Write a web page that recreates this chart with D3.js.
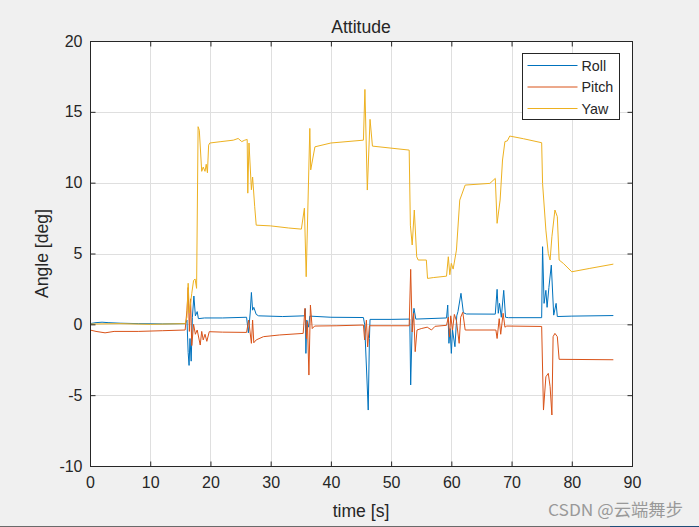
<!DOCTYPE html>
<html>
<head>
<meta charset="utf-8">
<script src="https://cdn.jsdelivr.net/npm/d3@7"></script>
<style>
  html, body { margin: 0; padding: 0; background: #f0f0f0; }
  svg text { font-family: "Liberation Sans", Arial, Helvetica, sans-serif; fill: #262626; }
</style>
</head>
<body>
<div id="chart"></div>
<script>
(function() {
  // series, [time s, angle deg]
  var roll = [[0,0.05],[1,0.12],[2,0.15],[3,0.12],[5,0.08],[8,0.05],[12,0.03],[15.8,0.05],[16.1,0.3],[16.3,-2.0],[16.45,-2.9],[16.6,-1.0],[16.8,-2.6],[17.0,0.5],[17.25,2.0],[17.5,0.6],[17.8,0.9],[18.0,0.4],[19,0.45],[22,0.45],[26.0,0.5],[26.3,-0.6],[26.6,0.8],[26.8,2.25],[27.0,1.0],[27.2,1.2],[27.6,0.7],[28,0.6],[32,0.55],[35.6,0.6],[35.75,1.1],[35.85,-2.05],[36.0,0.3],[36.3,-0.2],[36.5,0.58],[40,0.5],[45.4,0.48],[45.6,0.0],[46.0,-4.0],[46.2,-6.05],[46.4,-1.0],[46.5,0.35],[50,0.35],[53.1,0.37],[53.25,-4.28],[53.5,0.0],[53.8,1.13],[54.1,0.37],[59.2,0.45],[59.4,1.36],[59.6,-1.34],[59.8,-0.3],[60.0,-2.05],[60.2,-0.4],[60.6,-1.58],[60.9,0.6],[61.1,0.9],[61.6,2.19],[62.0,0.82],[62.5,0.73],[67.3,0.72],[67.6,2.47],[67.8,0.78],[68.0,1.48],[68.3,0.5],[68.7,2.4],[69.0,0.5],[69.5,0.47],[75.0,0.47],[75.15,5.48],[75.4,1.48],[75.7,2.4],[75.9,1.2],[76.2,2.6],[76.6,4.18],[77.0,0.65],[77.4,1.48],[77.6,0.55],[80,0.58],[86.9,0.62]];
  var pitch = [[0,-0.4],[1,-0.5],[2.5,-0.6],[4,-0.5],[8,-0.5],[12,-0.45],[15.8,-0.4],[16.1,1.0],[16.3,2.6],[16.5,-0.5],[16.7,1.8],[16.9,-1.5],[17.2,0.0],[17.5,-0.7],[17.8,-0.4],[18.3,-1.46],[18.55,-0.5],[18.8,-1.1],[19.1,-0.7],[19.4,-1.2],[19.8,-0.52],[22,-0.55],[26.0,-0.57],[26.35,0.3],[26.8,-1.34],[27.0,0.3],[27.2,-1.3],[27.6,-1.1],[28.8,-0.87],[31.5,-0.75],[35.4,-0.64],[35.7,1.13],[35.95,-1.0],[36.1,0.2],[36.35,-3.58],[36.6,1.36],[36.9,-0.3],[37.3,-0.12],[41,-0.1],[45.4,-0.05],[45.6,-1.1],[45.9,0.3],[46.1,-1.6],[46.4,-0.1],[50,-0.1],[53.0,-0.1],[53.25,3.88],[53.5,-0.54],[53.75,0.78],[54.0,-1.93],[54.3,-0.4],[55.0,-0.3],[56.0,-0.2],[56.7,-0.4],[57.3,-0.14],[59.2,-0.07],[59.5,0.5],[59.7,-0.9],[59.9,0.6],[60.2,-0.4],[60.5,0.7],[60.85,0.25],[61.3,-1.34],[61.55,0.5],[61.9,0.85],[62.3,-0.4],[67.4,-0.4],[67.6,-1.0],[67.95,0.4],[68.2,-0.7],[68.6,0.78],[68.9,-0.2],[69.2,-0.12],[75.0,-0.15],[75.3,-6.05],[75.7,-3.7],[76.1,-3.46],[76.4,-4.4],[76.7,-6.4],[76.9,-0.87],[77.2,-0.64],[77.6,-0.87],[77.9,-2.47],[86.9,-2.5]];
  var yaw = [[0,0.02],[5,0.05],[10,0.0],[15.8,0.05],[16.1,0.5],[16.3,2.9],[16.5,0.8],[16.9,2.19],[17.2,3.1],[17.45,3.2],[17.7,2.54],[17.95,13.95],[18.15,13.7],[18.55,10.8],[18.8,11.1],[19.1,10.8],[19.3,11.3],[19.5,10.7],[19.7,12.65],[19.9,12.8],[21.6,12.89],[23.8,13.0],[24.6,13.12],[25.2,12.9],[25.7,13.0],[26.1,13.05],[26.2,9.26],[26.4,12.8],[26.8,9.5],[27.0,10.4],[27.35,8.3],[27.6,7.0],[30,6.95],[33,6.8],[35.1,6.72],[35.6,8.2],[35.9,3.36],[36.5,13.83],[36.65,10.9],[37.35,12.53],[40,12.8],[45.4,13.0],[45.65,16.58],[46.05,9.48],[46.5,14.47],[46.9,12.58],[53.0,12.3],[53.2,7.0],[53.5,5.6],[53.85,8.07],[54.25,4.77],[54.5,4.54],[55.85,4.54],[56.05,3.24],[57,3.3],[59.2,3.4],[59.5,4.77],[59.75,3.5],[60.0,4.3],[60.3,3.9],[60.85,5.24],[61.4,8.77],[62.3,9.83],[66.4,9.95],[67.3,10.3],[67.6,7.13],[68.1,8.77],[68.5,11.6],[68.9,12.9],[69.3,12.95],[69.7,13.29],[72,13.1],[75.0,12.82],[75.15,9.95],[75.7,6.65],[76.1,5.0],[76.4,4.54],[76.7,6.18],[77.2,8.07],[77.6,7.6],[77.9,4.54],[78.6,4.3],[80,3.71],[83,3.95],[86.9,4.25]];

  var seriesNames = ['Roll', 'Pitch', 'Yaw'];
  var xTicks = [0, 10, 20, 30, 40, 50, 60, 70, 80, 90];
  var yTicks = [-10, -5, 0, 5, 10, 15, 20];

  var width = 699;
  var height = 527;
  var margin = { left: 90, right: 67, top: 41, bottom: 61 };
  var colors = ['#0072bd', '#d95319', '#edb120'];
  var axisColor = '#262626';

  var svg = d3.select('#chart').append('svg').attr('width', width).attr('height', height);
  svg.append('rect').attr('width', width).attr('height', height).attr('fill', '#f0f0f0');

  var x = d3.scaleLinear().domain([0, 90]).range([margin.left, width - margin.right]);
  var y = d3.scaleLinear().domain([-10, 20]).range([height - margin.bottom, margin.top]);
  var plainNumber = function(d) { return String(d); }; // hyphen minus like MATLAB

  // plot area
  svg.append('rect')
    .attr('x', x(0)).attr('y', y(20))
    .attr('width', x(90) - x(0)).attr('height', y(-10) - y(20))
    .attr('fill', '#fff');

  // grid
  var grid = svg.append('g').attr('class', 'grid').attr('stroke', '#dfdfdf').attr('stroke-width', 1);
  grid.selectAll('.gx').data(xTicks.slice(1, -1)).enter().append('line')
    .attr('x1', function(d) { return Math.round(x(d)) + 0.5; })
    .attr('x2', function(d) { return Math.round(x(d)) + 0.5; })
    .attr('y1', y(20)).attr('y2', y(-10));
  grid.selectAll('.gy').data(yTicks.slice(1, -1)).enter().append('line')
    .attr('y1', function(d) { return Math.round(y(d)) + 0.5; })
    .attr('y2', function(d) { return Math.round(y(d)) + 0.5; })
    .attr('x1', x(0)).attr('x2', x(90));

  // lines
  var line = d3.line()
    .x(function(d) { return x(d[0]); })
    .y(function(d) { return y(d[1]); });
  [roll, pitch, yaw].forEach(function(data, i) {
    svg.append('path')
      .datum(data)
      .attr('fill', 'none')
      .attr('stroke', colors[i])
      .attr('stroke-width', 1)
      .attr('stroke-linejoin', 'round')
      .attr('d', line);
  });

  // axes, ticks inward on all four sides (box on)
  var bottom = svg.append('g').attr('transform', 'translate(0,' + (Math.round(y(-10)) + 0.5) + ')')
    .call(d3.axisBottom(x).tickValues(xTicks).tickSize(-5).tickPadding(10).tickFormat(plainNumber));
  var top = svg.append('g').attr('transform', 'translate(0,' + (Math.round(y(20)) + 0.5) + ')')
    .call(d3.axisTop(x).tickValues(xTicks).tickSize(-5).tickFormat(''));
  var left = svg.append('g').attr('transform', 'translate(' + (Math.round(x(0)) + 0.5) + ',0)')
    .call(d3.axisLeft(y).tickValues(yTicks).tickSize(-5).tickPadding(10).tickFormat(plainNumber));
  var right = svg.append('g').attr('transform', 'translate(' + (Math.round(x(90)) + 0.5) + ',0)')
    .call(d3.axisRight(y).tickValues(yTicks).tickSize(-5).tickFormat(''));
  [bottom, top, left, right].forEach(function(g) {
    g.selectAll('path.domain').remove();
    g.selectAll('line').attr('stroke', axisColor);
    g.selectAll('text').style('font-size', '16px').attr('fill', axisColor)
      .style('font-family', '"Liberation Sans", Arial, sans-serif');
  });
  left.selectAll('text').attr('dx', '2');

  // box
  svg.append('rect')
    .attr('x', Math.round(x(0)) + 0.5).attr('y', Math.round(y(20)) + 0.5)
    .attr('width', Math.round(x(90)) - Math.round(x(0)))
    .attr('height', Math.round(y(-10)) - Math.round(y(20)))
    .attr('fill', 'none').attr('stroke', axisColor).attr('stroke-width', 1);

  // labels
  svg.append('text').attr('x', (x(0) + x(90)) / 2).attr('y', 33)
    .attr('text-anchor', 'middle').style('font-size', '17.6px').text('Attitude');
  svg.append('text').attr('x', (x(0) + x(90)) / 2).attr('y', 517)
    .attr('text-anchor', 'middle').style('font-size', '17.6px').text('time [s]');
  svg.append('text').attr('transform', 'translate(48,' + ((y(20) + y(-10)) / 2) + ') rotate(-90)')
    .attr('text-anchor', 'middle').style('font-size', '17.6px').text('Angle [deg]');

  // legend
  var legend = svg.append('g').attr('transform', 'translate(522.5,53.5)');
  legend.append('rect').attr('width', 97).attr('height', 66)
    .attr('fill', '#fff').attr('stroke', axisColor).attr('stroke-width', 1);
  var item = legend.selectAll('.item').data(seriesNames).enter().append('g')
    .attr('transform', function(d, i) { return 'translate(0,' + (12 + i * 21.5) + ')'; });
  item.append('line').attr('x1', 5).attr('x2', 55).attr('y1', 0).attr('y2', 0)
    .attr('stroke', function(d, i) { return colors[i]; }).attr('stroke-width', 1);
  item.append('text').attr('x', 59).attr('y', 5).style('font-size', '14.3px').text(function(d) { return d; });

  // watermark
  svg.append('text').attr('x', 548).attr('y', 516)
    .attr('textLength', 135).attr('lengthAdjust', 'spacingAndGlyphs')
    .style('font-size', '16.5px').style('font-family', '"Noto Sans CJK SC", "Liberation Sans", sans-serif')
    .style('fill', '#999999').text('CSDN @云端舞步');

  // window bottom edge
  svg.append('rect').attr('x', 0).attr('y', 526).attr('width', 610).attr('height', 1).attr('fill', '#6a6a6a');
  svg.append('rect').attr('x', 610).attr('y', 526).attr('width', width - 610).attr('height', 1).attr('fill', '#1f4e79');
}).call(this);
</script>
</body>
</html>
